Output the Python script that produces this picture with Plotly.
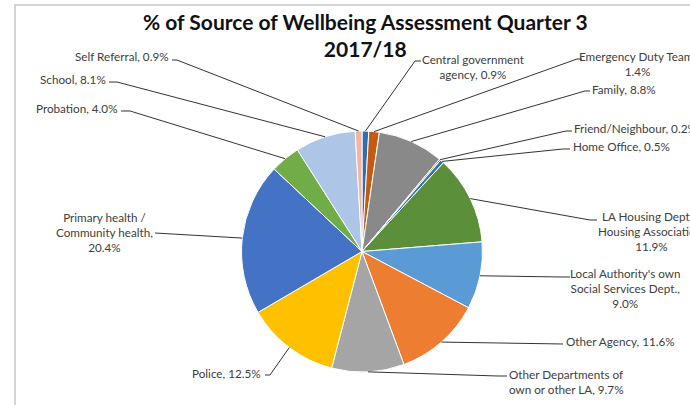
import math
import plotly.graph_objects as go

# ---- data ----
categories = [
    "Central government agency", "Emergency Duty Team", "Family",
    "Friend/Neighbour", "Home Office", "LA Housing Dept. / Housing Association",
    "Local Authority's own Social Services Dept.", "Other Agency",
    "Other Departments of own or other LA", "Police",
    "Primary health / Community health", "Probation", "School", "Self Referral",
]
values = [0.9, 1.4, 8.8, 0.2, 0.5, 11.9, 9.0, 11.6, 9.7, 12.5, 20.4, 4.0, 8.1, 0.9]
label_texts = [
    "Central government<br>agency, 0.9%",
    "Emergency Duty Team,<br>1.4%",
    "Family, 8.8%",
    "Friend/Neighbour, 0.2%",
    "Home Office, 0.5%",
    "LA Housing Dept. /<br>Housing Association,<br>11.9%",
    "Local Authority's own<br>Social Services Dept.,<br>9.0%",
    "Other Agency, 11.6%",
    "Other Departments of<br>own or other LA, 9.7%",
    "Police, 12.5%",
    "Primary health /<br>Community health,<br>20.4%",
    "Probation, 4.0%",
    "School, 8.1%",
    "Self Referral, 0.9%",
]
colors = ["#2F6DB5", "#C55A11", "#898989", "#BF9000", "#2E75B6", "#5B8F3A",
          "#5B9BD5", "#ED7D31", "#A5A5A5", "#FFC000", "#4472C4", "#70AD47",
          "#ADC6E8", "#F3B5A0"]
title_text = "<b>% of Source of Wellbeing Assessment Quarter 3<br>2017/18</b>"

# ---- layout constants (pixels) ----
W, H = 690, 405
CX, CY, R = 362.0, 251.5, 120.5

# label placement: (x, y, xanchor, align) ; elbow points for leader lines
label_pos = [
    (473, 66, "center", "center"),
    (637, 64, "center", "center"),
    (590, 89, "left", "left"),
    (572, 128, "left", "left"),
    (571, 146, "left", "left"),
    (651, 231, "center", "center"),
    (625, 288, "center", "center"),
    (564, 341, "left", "left"),
    (507, 381, "left", "left"),
    (263, 373, "right", "right"),
    (104.5, 232, "center", "center"),
    (120, 108, "right", "right"),
    (108, 79, "right", "right"),
    (171, 56, "right", "right"),
]
elbows = [
    [(421, 61), (415, 61)],
    [(582, 59), (577, 59)],
    [(590, 91), (585, 91)],
    [(572, 131), (566, 131)],
    [(570, 149), (563, 149)],
    [(597, 220), (590, 220)],
    [(570, 277), (562, 277)],
    [(563, 344)],
    [(507, 376), (498, 376)],
    [(265, 375), (270, 375)],
    [(155, 233)],
    [(121, 111), (130, 111)],
    [(109, 82), (117, 82)],
    [(172, 60), (177, 60)],
]


def px(x):
    return x / W


def py(y):
    return 1 - y / H


total = sum(values)
fig = go.Figure()
fig.add_trace(go.Pie(
    labels=categories, values=values, sort=False, direction="clockwise",
    rotation=0, textinfo="none", showlegend=False,
    marker=dict(colors=colors, line=dict(color="white", width=1)),
    domain=dict(x=[px(CX - R), px(CX + R)], y=[py(CY + R), py(CY - R)]),
))

shapes = []
annotations = []
cum = 0.0
for i, v in enumerate(values):
    mid = (cum + v / 2) / total * 2 * math.pi
    cum += v
    ex = CX + R * math.sin(mid)
    ey = CY - R * math.cos(mid)
    pts = elbows[i] + [(ex, ey)]
    path = "M " + " L ".join(f"{px(a):.5f},{py(b):.5f}" for a, b in pts)
    shapes.append(dict(type="path", xref="paper", yref="paper", path=path,
                       line=dict(color="#333333", width=1)))
    x, y, xa, al = label_pos[i]
    annotations.append(dict(
        text=label_texts[i], x=px(x), y=py(y), xref="paper", yref="paper",
        xanchor=xa, yanchor="middle", align=al, showarrow=False,
        font=dict(family="Lato", size=11.7, color="#404040"),
    ))

# title
annotations.append(dict(
    text=title_text, x=px(365), y=py(35), xref="paper", yref="paper",
    xanchor="center", yanchor="middle", align="center", showarrow=False,
    font=dict(family="Lato", size=21, color="#111111"),
))

# chart area border
shapes.append(dict(type="path", xref="paper", yref="paper",
                   path=f"M {px(15)},{py(410)} L {px(15)},{py(5)} L {px(700)},{py(5)}",
                   line=dict(color="#C8C8C8", width=1.5)))

fig.update_layout(
    width=W, height=H,
    margin=dict(l=0, r=0, t=0, b=0),
    paper_bgcolor="white", plot_bgcolor="white",
    shapes=shapes, annotations=annotations,
)

fig.write_html("out.html", config={"displayModeBar": False},
               post_script="document.body.style.margin='0px';")
